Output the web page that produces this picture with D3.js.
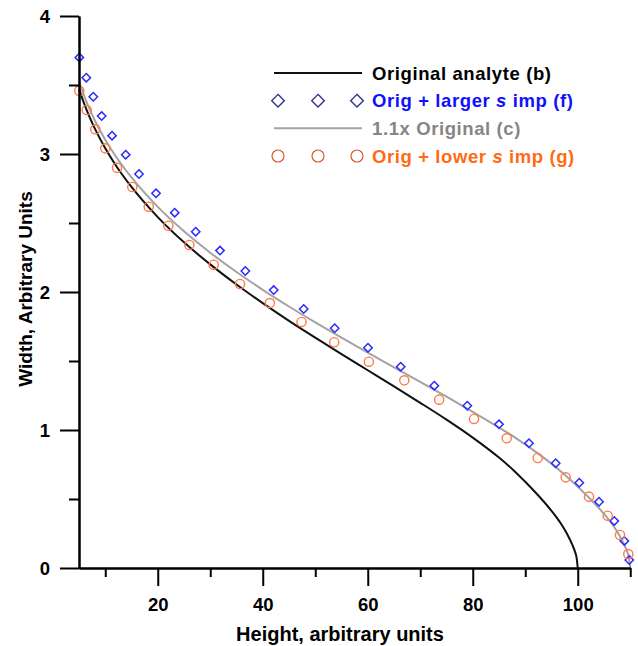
<!DOCTYPE html>
<html>
<head>
<meta charset="utf-8">
<script src="https://cdn.jsdelivr.net/npm/d3@7"></script>
<style>
  html, body { margin: 0; padding: 0; background: #fff; }
  svg { display: block; font-family: "Liberation Sans", Arial, sans-serif; }
</style>
</head>
<body>
<svg id="chart" width="638" height="646"></svg>
<script>
// Peak width measured at each height, for the original analyte and its variants
const analyteHeight = [5, 6, 7, 8, 10, 12, 15, 20, 25, 30, 35, 40, 45, 50, 55, 60, 65, 70, 75, 80, 85, 88, 90, 92, 94, 96, 97, 98, 99, 99.5, 99.8, 100];
const analyteWidth  = [3.47, 3.363, 3.269, 3.186, 3.042, 2.919, 2.761, 2.543, 2.36, 2.2, 2.054, 1.919, 1.791, 1.669, 1.55, 1.433, 1.316, 1.197, 1.075, 0.945, 0.8, 0.7, 0.625, 0.545, 0.46, 0.365, 0.31, 0.245, 0.165, 0.115, 0.07, 0];

const scaledHeight = [5, 6, 7, 8, 10, 12, 15, 20, 25, 30, 35, 40, 45, 50, 55, 60, 65, 70, 75, 80, 85, 88, 93.5, 96.8, 99, 101.2, 103.4, 105.6, 106.7, 107.8, 108.9, 109.45, 109.78, 110];
const scaledWidth  = [3.524, 3.419, 3.327, 3.245, 3.104, 2.984, 2.83, 2.617, 2.44, 2.285, 2.145, 2.016, 1.895, 1.78, 1.669, 1.561, 1.454, 1.348, 1.241, 1.131, 1.018, 0.947, 0.8, 0.7, 0.625, 0.545, 0.46, 0.365, 0.31, 0.245, 0.165, 0.115, 0.07, 0];

const largerImpHeight = [5.06, 6.39, 7.72, 9.32, 11.29, 13.9, 16.43, 19.67, 23.23, 27.23, 31.86, 36.68, 42.09, 47.8, 53.7, 60.05, 66.28, 72.68, 78.96, 85.0, 90.71, 95.8, 100.29, 104.05, 106.96, 108.87, 109.82];
const largerImpWidth  = [3.70, 3.553, 3.415, 3.275, 3.133, 2.995, 2.855, 2.715, 2.575, 2.437, 2.30, 2.152, 2.014, 1.877, 1.737, 1.596, 1.459, 1.321, 1.176, 1.041, 0.904, 0.759, 0.618, 0.48, 0.341, 0.196, 0.058];

const lowerImpHeight = [5.06, 6.47, 8.1, 10.01, 12.24, 15.15, 18.28, 22.01, 26.01, 30.66, 35.67, 41.36, 47.38, 53.61, 60.21, 66.96, 73.6, 80.24, 86.47, 92.37, 97.7, 102.14, 105.7, 108.05, 109.63];
const lowerImpWidth  = [3.459, 3.319, 3.179, 3.041, 2.901, 2.761, 2.618, 2.48, 2.341, 2.198, 2.058, 1.92, 1.783, 1.636, 1.495, 1.36, 1.22, 1.08, 0.94, 0.797, 0.657, 0.517, 0.379, 0.239, 0.101];

const xMajorTicks = [20, 40, 60, 80, 100];
const xMinorTicks = [10, 30, 50, 70, 90, 110];
const yMajorTicks = [0, 1, 2, 3, 4];
const yMinorTicks = [0.5, 1.5, 2.5, 3.5];

const xTitle = "Height, arbitrary units";
const yTitle = "Width, Arbitrary Units";

const svg = d3.select("#chart");

const x = d3.scaleLinear().domain([5, 110]).range([79, 630.25]);
const y = d3.scaleLinear().domain([0, 4]).range([568, 16]);

const zip = (xs, ys) => xs.map((v, i) => [v, ys[i]]);

const line = d3.line()
  .x(d => x(d[0]))
  .y(d => y(d[1]))
  .curve(d3.curveMonotoneX);

// Curves
svg.append("path")
  .datum(zip(scaledHeight, scaledWidth))
  .attr("d", line)
  .attr("fill", "none")
  .attr("stroke", "#a3a3a3")
  .attr("stroke-width", 2);

svg.append("path")
  .datum(zip(analyteHeight, analyteWidth))
  .attr("d", line)
  .attr("fill", "none")
  .attr("stroke", "#111")
  .attr("stroke-width", 2);

// Markers
const diamond = r => `M0,${-r}L${r},0L0,${r}L${-r},0Z`;

svg.append("g")
  .selectAll("path")
  .data(zip(largerImpHeight, largerImpWidth))
  .join("path")
  .attr("transform", d => `translate(${x(d[0])},${y(d[1])})`)
  .attr("d", diamond(4.2))
  .attr("fill", "none")
  .attr("stroke", "#2a2aff")
  .attr("stroke-width", 1.5);

svg.append("g")
  .selectAll("circle")
  .data(zip(lowerImpHeight, lowerImpWidth))
  .join("circle")
  .attr("cx", d => x(d[0]))
  .attr("cy", d => y(d[1]))
  .attr("r", 4.6)
  .attr("fill", "none")
  .attr("stroke", "#ff7a4a")
  .attr("stroke-width", 1.4);

// Axes
function styleAxis(g) {
  g.selectAll("path.domain").attr("stroke", "#000").attr("stroke-width", 2);
  g.selectAll(".tick line").attr("stroke", "#000").attr("stroke-width", 2);
  g.selectAll("text")
    .attr("fill", "#000")
    .attr("font-size", 18.5)
    .attr("font-weight", "bold")
    .attr("font-family", "Liberation Sans, Arial, sans-serif");
}

svg.append("g")
  .attr("transform", "translate(79,0)")
  .call(d3.axisLeft(y).tickValues(yMinorTicks).tickSize(10).tickSizeOuter(0).tickFormat(""))
  .call(styleAxis);
svg.append("g")
  .attr("transform", "translate(79,0)")
  .call(d3.axisLeft(y).tickValues(yMajorTicks).tickSize(19).tickSizeOuter(0).tickPadding(10).tickFormat(d3.format("d")))
  .call(styleAxis)
  .call(g => g.selectAll("text").attr("dy", "0.36em"));

svg.append("g")
  .attr("transform", "translate(0,568)")
  .call(d3.axisBottom(x).tickValues(xMinorTicks).tickSize(9).tickSizeOuter(0).tickFormat(""))
  .call(styleAxis);
svg.append("g")
  .attr("transform", "translate(0,568)")
  .call(d3.axisBottom(x).tickValues(xMajorTicks).tickSize(18).tickSizeOuter(0).tickPadding(12).tickFormat(d3.format("d")))
  .call(styleAxis);

// Axis titles
svg.append("text")
  .attr("x", 340).attr("y", 641)
  .attr("text-anchor", "middle")
  .attr("font-size", 20).attr("font-weight", "bold")
  .text(xTitle);

svg.append("text")
  .attr("transform", "translate(32,289) rotate(-90)")
  .attr("text-anchor", "middle")
  .attr("font-size", 19).attr("font-weight", "bold")
  .text(yTitle);

// Legend
const legendRows = [
  { type: "line", stroke: "#111", color: "#000", parts: [["Original analyte (b)", false]] },
  { type: "diamond", stroke: "#33338f", color: "#1010ff", parts: [["Orig + larger ", false], ["s", true], [" imp (f)", false]] },
  { type: "line", stroke: "#a3a3a3", color: "#858585", parts: [["1.1x Original (c)", false]] },
  { type: "circle", stroke: "#d9582e", color: "#ff6a14", parts: [["Orig + lower ", false], ["s", true], [" imp (g)", false]] }
];
const legendY = d3.scalePoint().domain(d3.range(legendRows.length)).range([73, 156]);
const legendMarkX = [278, 318, 357];

const legend = svg.append("g");
legendRows.forEach((row, i) => {
  const cy = legendY(i);
  if (row.type === "line") {
    legend.append("line")
      .attr("x1", 274).attr("x2", 362).attr("y1", cy).attr("y2", cy)
      .attr("stroke", row.stroke).attr("stroke-width", 2);
  } else if (row.type === "diamond") {
    legend.selectAll(null).data(legendMarkX).join("path")
      .attr("transform", d => `translate(${d},${cy})`)
      .attr("d", diamond(6.3))
      .attr("fill", "none").attr("stroke", row.stroke).attr("stroke-width", 1.4);
  } else {
    legend.selectAll(null).data(legendMarkX).join("circle")
      .attr("cx", d => d).attr("cy", cy).attr("r", 6)
      .attr("fill", "none").attr("stroke", row.stroke).attr("stroke-width", 1.2);
  }
  const t = legend.append("text")
    .attr("x", 372).attr("y", cy).attr("dy", "0.36em")
    .attr("font-size", 18.5).attr("font-weight", "bold")
    .attr("letter-spacing", 0.6)
    .attr("fill", row.color);
  row.parts.forEach(([s, it]) => {
    t.append("tspan").attr("font-style", it ? "italic" : "normal").text(s);
  });
});
</script>
</body>
</html>
